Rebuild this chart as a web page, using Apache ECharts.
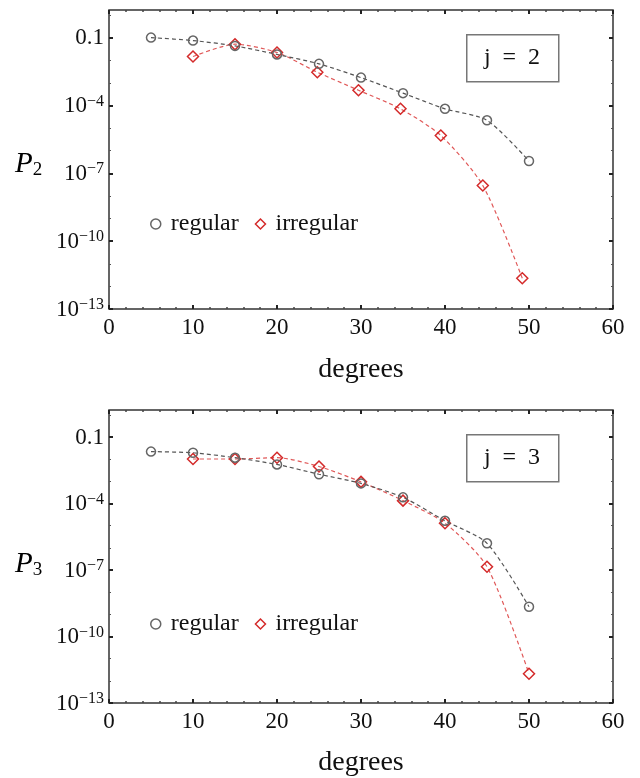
<!DOCTYPE html>
<html><head><meta charset="utf-8">
<script src="https://cdn.jsdelivr.net/npm/echarts@6/dist/echarts.min.js"></script>
<style>html,body{margin:0;padding:0;background:#fff}#c{width:640px;height:778px}</style>
</head><body><div id="c"></div>
<script>
// ---- data ----
const xRegular = [5, 10, 15, 20, 25, 30, 35, 40, 45, 50];
const xIrregularJ2 = [10, 15, 20, 24.8, 29.7, 34.7, 39.5, 44.5, 49.2];
const xIrregularJ3 = [10, 15, 20, 25, 30, 35, 40, 45, 50];
const p2Regular = [1.0e-1, 7.4e-2, 4.3e-2, 1.8e-2, 6.9e-3, 1.7e-3, 3.5e-4, 7.1e-5, 2.2e-5, 3.5e-7];
const p2Irregular = [1.45e-2, 5.1e-2, 2.2e-2, 2.95e-3, 4.7e-4, 7.1e-5, 4.7e-6, 2.9e-8, 2.3e-12];
const p3Regular = [2.2e-2, 1.95e-2, 1.17e-2, 5.8e-3, 2.1e-3, 8.1e-4, 1.9e-4, 1.66e-5, 1.6e-6, 2.2e-9];
const p3Irregular = [1.02e-2, 1.02e-2, 1.17e-2, 4.7e-3, 9.5e-4, 1.35e-4, 1.3e-5, 1.4e-7, 2.1e-12];
const yMajorTicks = [1e-13, 1e-10, 1e-7, 1e-4, 1e-1];
const yMinorTicks = [1e-12, 1e-11, 1e-9, 1e-8, 1e-6, 1e-5, 1e-3, 1e-2, 1];
const xTicks = [0, 10, 20, 30, 40, 50, 60];
const panelLabels = ['2', '3'];
const jLabels = ['j\u2002=\u20022', 'j\u2002=\u20023'];
const legendNames = ['regular', 'irregular'];

// ---- styling ----
const SERIF = '"Liberation Serif","DejaVu Serif",serif';
const yMin = 1e-13, yMax = Math.pow(10, 0.22);
const gridTops = [10, 410];
const gridH = 299;
const GRAY = '#666', GRAYLINE = '#555', RED = '#d42a2a', REDLINE = '#e05858';

function zip(xs, ys) { return xs.map((x, i) => [x, ys[i]]); }
function fmtY(v) {
  const e = Math.round(Math.log10(v));
  if (e === -1) return '{b|0.1}';
  return '{b|10}{s|\u2212' + (-e) + '}';
}

const grid = [], xAxis = [], yAxis = [], series = [], legend = [], graphic = [];
const panels = [
  { reg: zip(xRegular, p2Regular), irr: zip(xIrregularJ2, p2Irregular) },
  { reg: zip(xRegular, p3Regular), irr: zip(xIrregularJ3, p3Irregular) }
];

panels.forEach((p, g) => {
  grid.push({ left: 109, right: 27, top: gridTops[g], height: gridH, show: true,
    borderColor: '#333', borderWidth: 1.5, backgroundColor: 'transparent' });
  const xBase = { type: 'value', gridIndex: g, min: 0, max: 60, interval: 10,
    axisLine: { show: false }, splitLine: { show: false },
    axisTick: { inside: true, length: 4, lineStyle: { color: '#222', width: 2 } },
    minorTick: { show: true, splitNumber: 5, length: 2, lineStyle: { color: '#444', width: 1.5 } } };
  xAxis.push(Object.assign({}, xBase, { position: 'bottom',
    axisLabel: { fontFamily: SERIF, fontSize: 23, color: '#111', margin: 7 },
    name: 'degrees', nameLocation: 'middle', nameGap: g === 0 ? 47 : 46,
    nameTextStyle: { fontFamily: SERIF, fontSize: 28, color: '#111' } }));
  xAxis.push(Object.assign({}, xBase, { position: 'top', axisLabel: { show: false } }));

  const yBase = { type: 'log', logBase: 10, gridIndex: g, min: yMin, max: yMax,
    axisLine: { show: false }, splitLine: { show: false } };
  ['left', 'right'].forEach(pos => {
    yAxis.push(Object.assign({}, yBase, { position: pos,
      axisTick: { inside: true, length: 4, customValues: yMajorTicks, lineStyle: { color: '#222', width: 2 } },
      axisLabel: pos === 'left' ? { customValues: yMajorTicks, formatter: fmtY, margin: 5,
        rich: { b: { fontFamily: SERIF, fontSize: 23, color: '#111', lineHeight: 24, verticalAlign: 'bottom' },
                s: { fontFamily: SERIF, fontSize: 16, color: '#111', lineHeight: 16, verticalAlign: 'top' } } }
        : { show: false } }));
    yAxis.push(Object.assign({}, yBase, { position: pos,
      axisTick: { inside: true, length: 2, customValues: yMinorTicks, lineStyle: { color: '#555', width: 1 } },
      axisLabel: { show: false } }));
  });

  const yi = g * 4, xi = g * 2;
  series.push({ type: 'line', name: 'regular', xAxisIndex: xi, yAxisIndex: yi, data: p.reg,
    symbol: 'circle', symbolSize: 9, smooth: 0.25, z: 3,
    lineStyle: { color: GRAYLINE, width: 1.2, type: [4, 3] },
    itemStyle: { color: 'rgba(255,255,255,0)', borderColor: GRAY, borderWidth: 1.5 },
    emphasis: { disabled: true } });
  series.push({ type: 'line', name: 'irregular', xAxisIndex: xi, yAxisIndex: yi, data: p.irr,
    symbol: 'diamond', symbolSize: 11, smooth: 0.25, z: 2,
    lineStyle: { color: REDLINE, width: 1.2, type: [4, 3] },
    itemStyle: { color: 'rgba(255,255,255,0)', borderColor: RED, borderWidth: 1.5 },
    emphasis: { disabled: true } });

  legend.push({ left: 145, top: gridTops[g] + 197, orient: 'horizontal', itemGap: 16,
    itemWidth: 10, itemHeight: 10, selectedMode: false,
    textStyle: { fontFamily: SERIF, fontSize: 24, color: '#111', padding: [0, 0, 0, 5] },
    data: [
      { name: legendNames[0], icon: 'circle', itemStyle: { color: 'rgba(255,255,255,0)', borderColor: GRAY, borderWidth: 1.5 } },
      { name: legendNames[1], icon: 'diamond', itemStyle: { color: 'rgba(255,255,255,0)', borderColor: RED, borderWidth: 1.5 } }
    ] });

  // P_j axis title
  graphic.push({ type: 'text', left: 15, top: gridTops[g] + 140, z: 10,
    style: { text: '{p|P}{s|' + panelLabels[g] + '}',
      rich: { p: { fontFamily: SERIF, fontStyle: 'italic', fontSize: 29, color: '#111', lineHeight: 30, verticalAlign: 'top' },
              s: { fontFamily: SERIF, fontSize: 19, color: '#111', lineHeight: 19, verticalAlign: 'bottom' } } } });
  // j box
  graphic.push({ type: 'rect', left: 466, top: gridTops[g] + 24, z: 10,
    shape: { width: 92, height: 47 }, style: { fill: '#fff', stroke: '#777', lineWidth: 1.5 } });
  graphic.push({ type: 'text', x: 512, y: gridTops[g] + 48, z: 11,
    style: { text: jLabels[g], fontFamily: SERIF, fontSize: 24, fill: '#111', align: 'center', verticalAlign: 'middle' } });
});

const chart = echarts.init(document.getElementById('c'), null, { renderer: 'canvas' });
chart.setOption({ animation: false, backgroundColor: '#fff', grid, xAxis, yAxis, series, legend, graphic });
</script>
</body></html>
